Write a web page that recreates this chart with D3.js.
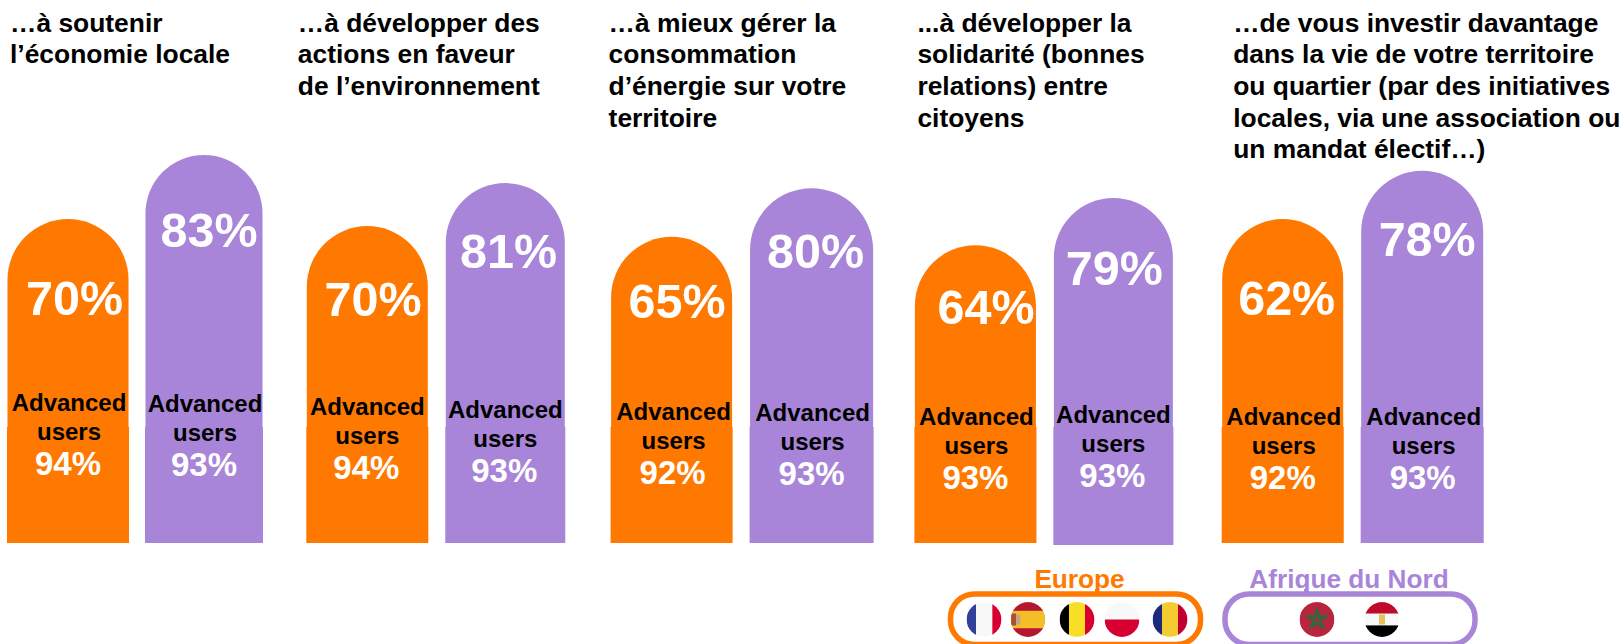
<!DOCTYPE html>
<html>
<head>
<meta charset="utf-8">
<script src="https://cdn.jsdelivr.net/npm/d3@7"></script>
<style>
  html, body { margin: 0; padding: 0; background: #fff; }
  svg { display: block; }
  text { font-family: "Liberation Sans", Arial, sans-serif; font-weight: bold; }
</style>
</head>
<body>
<div id="chart"></div>
<script>
// Data
const categories = [
  ["…à soutenir", "l’économie locale"],
  ["…à développer des", "actions en faveur", "de l’environnement"],
  ["…à mieux gérer la", "consommation", "d’énergie sur votre", "territoire"],
  ["...à développer la", "solidarité (bonnes", "relations) entre", "citoyens"],
  ["…de vous investir davantage", "dans la vie de votre territoire", "ou quartier (par des initiatives", "locales, via une association ou", "un mandat électif…)"]
];
const seriesNames = ["Europe", "Afrique du Nord"];
const europeValues = [70, 70, 65, 64, 62];
const afriqueValues = [83, 81, 80, 79, 78];
const europeAdvanced = [94, 94, 92, 93, 92];
const afriqueAdvanced = [93, 93, 93, 93, 93];
// the bars in the original are not drawn to the labelled value, so keep their drawn level apart
const europeLevels = [69.3, 67.8, 65.5, 63.7, 69.3];
const afriqueLevels = [83, 77, 75.9, 73.8, 79.6];

const flagsEurope = ["fr", "es", "be", "pl", "ro"];
const flagsAfrique = ["ma", "eg"];

const width = 1622, height = 644;
const colors = d3.scaleOrdinal().domain(seriesNames).range(["#ff7900", "#a885d8"]);

const svg = d3.select("#chart").append("svg")
  .attr("width", width)
  .attr("height", height)
  .attr("viewBox", [0, 0, width, height]);

/* Scales */
const baseline = 543;
const y = d3.scaleLinear().domain([0, 100]).range([baseline, baseline - 467.5]);
const x0 = d3.scaleBand().domain(d3.range(categories.length)).range([7, 1526]);
const x1 = d3.scaleBand().domain(seriesNames).range([0, 261]).paddingInner(0.122);

// The original is hand laid out, nothing lines up exactly. These are the pixel nudges per group/bar.
const groupNudge = [0, -4.5, -4, -4, -.5];
const gx = i => x0(i) + groupNudge[i];
const widthNudge = {Europe: [0, 0, 0, 0, 0], "Afrique du Nord": [-4, -2, 2, -2, 1]};
const leftNudge = {Europe: [0, 0, 0, 0, 0], "Afrique du Nord": [-1, 0, 0, 0, 0]};
const bottomNudge = {Europe: [0, 0, 0, 0, 0], "Afrique du Nord": [0, 0, 0, 2, 0]};
const bigDx = {Europe: [6.5, 5.75, 5.5, 10.75, 4], "Afrique du Nord": [2, 2.25, 5, 0, 5.5]};
const bigDy = {Europe: [95, 89, 81, 78, 95], "Afrique du Nord": [92, 84, 79, 87, 85]};
const advDx = {Europe: [1, 0, 2, 1, 1], "Afrique du Nord": [-2, -1, 2, -1, 2]};
const advDy = {Europe: [0, 4, 8.5, 13.5, 13.5], "Afrique du Nord": [1, 7, 9.5, 11.5, 13.5]};
const titleDx = [3, -8.5, -2, 3, 11.5];
const seamY = 427;

const barPath = (x, top, w) => {
  const r = w / 2;
  return `M${x},${seamY + 1}V${top + r}A${r},${r} 0 0 1 ${x + w},${top + r}V${seamY + 1}Z`;
};

const rows = [];
categories.forEach((c, i) => {
  rows.push({i, s: seriesNames[0], value: europeValues[i], adv: europeAdvanced[i], level: europeLevels[i]});
  rows.push({i, s: seriesNames[1], value: afriqueValues[i], adv: afriqueAdvanced[i], level: afriqueLevels[i]});
});
const barX = d => gx(d.i) + x1(d.s) + leftNudge[d.s][d.i];
const barW = d => x1.bandwidth() + widthNudge[d.s][d.i];
const mid = d => gx(d.i) + x1(d.s) + x1.bandwidth() / 2;

/* Bars: rounded part sits a hair inside the block below it, as in the original */
svg.append("g").selectAll("path")
  .data(rows)
  .join("path")
    .attr("d", d => barPath(barX(d) + .5, y(d.level), barW(d) - 1))
    .attr("fill", d => colors(d.s));
svg.append("g").selectAll("rect")
  .data(rows)
  .join("rect")
    .attr("x", barX)
    .attr("y", seamY)
    .attr("width", barW)
    .attr("height", d => baseline + bottomNudge[d.s][d.i] - seamY)
    .attr("fill", d => colors(d.s));

/* Big percentage inside each bar */
svg.append("g").selectAll("text")
  .data(rows)
  .join("text")
    .attr("x", d => mid(d) + bigDx[d.s][d.i])
    .attr("y", d => y(d.level) + bigDy[d.s][d.i] + .5)
    .attr("text-anchor", "middle")
    .attr("font-size", 48.5)
    .attr("fill", "#fff")
    .text(d => d.value + "%");

/* Advanced users block */
const adv = svg.append("g").selectAll("g")
  .data(rows)
  .join("g")
    .attr("transform", d => `translate(${mid(d) + advDx[d.s][d.i]},${411 + advDy[d.s][d.i]})`);
adv.append("text").attr("text-anchor", "middle").attr("font-size", 24).attr("fill", "#000").text("Advanced");
adv.append("text").attr("text-anchor", "middle").attr("font-size", 24).attr("y", 29).attr("fill", "#000").text("users");
adv.append("text").attr("text-anchor", "middle").attr("x", -1).attr("font-size", 33).attr("y", 64).attr("fill", "#fff").text(d => d.adv + "%");

/* Titles */
svg.append("g").selectAll("text")
  .data(categories)
  .join("text")
    .attr("x", (d, i) => gx(i) + titleDx[i])
    .attr("y", 31.5)
    .attr("font-size", 26.4)
    .attr("fill", "#000")
  .selectAll("tspan")
  .data(d => d)
  .join("tspan")
    .attr("x", function() { return d3.select(this.parentNode).attr("x"); })
    .attr("dy", (d, i) => i ? 31.7 : 0)
    .text(d => d);

/* Legend */
const legend = [
  {name: seriesNames[0], x: 950.5, cx: 1079.5, tick: 1096, flags: flagsEurope, fx: [984, 1028, 1077, 1122, 1170]},
  {name: seriesNames[1], x: 1225, cx: 1349, tick: 1305, flags: flagsAfrique, fx: [1317, 1382]}
];
const legendG = svg.append("g").selectAll("g").data(legend).join("g");
legendG.append("text")
  .attr("x", d => d.cx)
  .attr("y", 587.5)
  .attr("text-anchor", "middle")
  .attr("font-size", 26.2)
  .attr("fill", d => colors(d.name))
  .text(d => d.name);
legendG.append("rect")
  .attr("x", d => d.x).attr("y", 594)
  .attr("width", 250).attr("height", 50.5)
  .attr("rx", 24)
  .attr("fill", "none")
  .attr("stroke", d => colors(d.name))
  .attr("stroke-width", 5.5);
legendG.append("line")
  .attr("x1", d => d.tick).attr("x2", d => d.tick)
  .attr("y1", 589).attr("y2", 594)
  .attr("stroke", d => colors(d.name))
  .attr("stroke-width", 2);

/* Flags: stripes clipped to a circle */
const flagStripes = {
  fr: {dir: "v", cols: ["#33409a", "#f8f8f8", "#d80031"], w: [.27, .47, .26]},
  es: {dir: "h", cols: ["#b5172f", "#f4be28", "#b5172f"], w: [.25, .5, .25]},
  be: {dir: "v", cols: ["#000", "#f8df26", "#d80031"], w: [.27, .46, .27]},
  pl: {dir: "h", cols: ["#f8f8f8", "#d80031"], w: [.5, .5]},
  ro: {dir: "v", cols: ["#1c2a7c", "#f4cc2f", "#bf0031"], w: [.27, .46, .27]},
  ma: {dir: "h", cols: ["#b9243f"], w: [1]},
  eg: {dir: "h", cols: ["#c00a2a", "#f8f8f8", "#000"], w: [.33, .34, .33]}
};
const r = 17.4, fy = 619.5;
const defs = svg.append("defs");
legend.forEach(l => l.flags.forEach((f, i) => {
  defs.append("clipPath").attr("id", "clip-" + f).append("circle").attr("r", r);
  const g = svg.append("g").attr("transform", `translate(${l.fx[i]},${fy})`);
  const inner = g.append("g").attr("clip-path", `url(#clip-${f})`);
  const spec = flagStripes[f];
  let pos = -r;
  spec.cols.forEach((c, j) => {
    const size = spec.w[j] * 2 * r;
    if (spec.dir === "v") inner.append("rect").attr("x", pos).attr("y", -r).attr("width", size + .3).attr("height", 2 * r).attr("fill", c);
    else inner.append("rect").attr("x", -r).attr("y", pos).attr("width", 2 * r).attr("height", size + .3).attr("fill", c);
    pos += size;
  });
  if (f === "es") {
    inner.append("rect").attr("x", -r + .5).attr("y", -6).attr("width", 5).attr("height", 12).attr("fill", "#a8503a");
    inner.append("rect").attr("x", -r + 5.5).attr("y", -5).attr("width", 4).attr("height", 10).attr("fill", "#c9a08a");
  }
  if (f === "eg") inner.append("rect").attr("x", -3).attr("y", -5).attr("width", 6).attr("height", 10).attr("fill", "#e8c05a");
  if (f === "ma") {
    const star = d3.range(5).map(k => {
      const a = -Math.PI / 2 + k * 2 * 2 * Math.PI / 5;
      return [10 * Math.cos(a), 10 * Math.sin(a)];
    });
    inner.append("path").attr("d", "M" + star.join("L") + "Z")
      .attr("fill", "none").attr("stroke", "#2a6a3c").attr("stroke-width", 2.2);
  }
}));
</script>
</body>
</html>
